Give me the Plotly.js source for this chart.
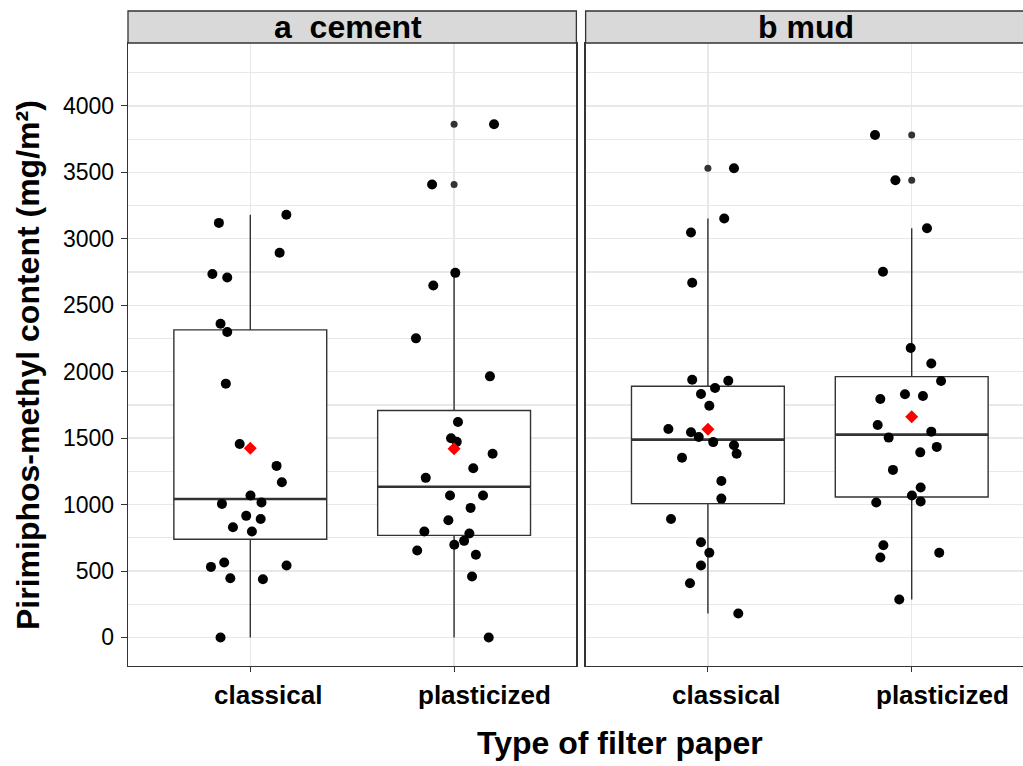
<!DOCTYPE html>
<html>
<head>
<meta charset="utf-8">
<script src="https://cdn.plot.ly/plotly-3.0.1.min.js"></script>
<style>
html,body{margin:0;padding:0;overflow:hidden;background:#fff;}
#chart{width:1034px;height:766px;}
</style>
</head>
<body>
<div id="chart"></div>
<script>
// ---- data ----
const panels = ["a  cement", "b mud"];
const categories = ["classical", "plasticized"];
const yTicks = [0, 500, 1000, 1500, 2000, 2500, 3000, 3500, 4000];

const cementClassical = [3120, 3181, 2895, 2735, 2709, 2361, 2299, 1910, 1456, 1291, 1168, 1068,
  1005, 1015, 915, 892, 829, 797, 564, 531, 541, 446, 438, 0];
const cementClassicalJitter = [-0.154, 0.177, 0.144, -0.186, -0.113, -0.146, -0.113, -0.120, -0.052, 0.129, 0.155, 0.001,
  -0.139, 0.055, -0.020, 0.051, -0.085, 0.008, -0.128, -0.193, 0.178, -0.098, 0.062, -0.146];

const cementPlasticized = [3862, 3409, 2744, 2649, 2251, 1965, 1622, 1499, 1472, 1383, 1273, 1201,
  1068, 1068, 975, 882, 797, 782, 727, 697, 654, 622, 459, 0];
const cementPlasticizedJitter = [0.196, -0.108, 0.006, -0.102, -0.187, 0.176, 0.019, -0.015, 0.013, 0.189, 0.094, -0.139,
  -0.020, 0.142, 0.081, -0.028, -0.146, 0.075, 0.049, 0.001, -0.181, 0.107, 0.088, 0.170];

const mudClassical = [3531, 3153, 3048, 2669, 1940, 1932, 1877, 1832, 1744, 1569, 1544, 1508,
  1470, 1446, 1383, 1353, 1178, 1045, 892, 717, 637, 541, 408, 180];
const mudClassicalJitter = [0.128, 0.080, -0.083, -0.077, -0.077, 0.100, 0.035, -0.034, 0.007, -0.194, -0.083, -0.045,
  0.026, 0.128, 0.141, -0.127, 0.066, 0.066, -0.181, -0.034, 0.007, -0.034, -0.088, 0.149];

const mudPlasticized = [3782, 3441, 3080, 2752, 2178, 2062, 1930, 1830, 1817, 1795, 1599, 1549,
  1504, 1434, 1393, 1261, 1128, 1068, 1023, 1015, 694, 637, 602, 286];
const mudPlasticizedJitter = [-0.180, -0.080, 0.075, -0.141, -0.005, 0.096, 0.144, -0.033, 0.055, -0.154, -0.167, 0.096,
  -0.113, 0.123, 0.042, -0.092, 0.044, 0.001, 0.044, -0.174, -0.139, 0.135, -0.154, -0.061];

const groups = [
  {panel: 0, cat: 0, values: cementClassical, jitter: cementClassicalJitter},
  {panel: 0, cat: 1, values: cementPlasticized, jitter: cementPlasticizedJitter},
  {panel: 1, cat: 0, values: mudClassical, jitter: mudClassicalJitter},
  {panel: 1, cat: 1, values: mudPlasticized, jitter: mudPlasticizedJitter}
];

// ---- statistics (ggplot / R type 7 quantiles) ----
function quant(sorted, p) {
  const h = (sorted.length - 1) * p, lo = Math.floor(h);
  const hi = Math.min(lo + 1, sorted.length - 1);
  return sorted[lo] + (h - lo) * (sorted[hi] - sorted[lo]);
}
function stats(v) {
  const s = v.slice().sort((a, b) => a - b);
  const q1 = quant(s, 0.25), med = quant(s, 0.5), q3 = quant(s, 0.75);
  const iqr = q3 - q1, lo = q1 - 1.5 * iqr, hi = q3 + 1.5 * iqr;
  const inside = s.filter(d => d >= lo && d <= hi);
  return {
    q1, med, q3,
    lf: inside[0], uf: inside[inside.length - 1],
    out: s.filter(d => d < lo || d > hi),
    mean: v.reduce((a, b) => a + b, 0) / v.length
  };
}

const LINE = '#333333';
const BOXW = 0.75;
const boxes = [], lines = [];
groups.forEach(g => {
  const st = stats(g.values);
  const pos = g.cat + 1;
  const xa = g.panel ? 'x2' : 'x', ya = g.panel ? 'y2' : 'y';
  boxes.push({
    type: 'box', orientation: 'v', x: [pos], q1: [st.q1], median: [st.med], q3: [st.q3],
    lowerfence: [st.lf], upperfence: [st.uf], width: BOXW, whiskerwidth: 0,
    boxpoints: false, fillcolor: 'white', line: {color: LINE, width: 1.4},
    xaxis: xa, yaxis: ya, showlegend: false, hoverinfo: 'skip'
  });
  lines.push({
    type: 'scatter', mode: 'lines', x: [pos - BOXW / 2, pos + BOXW / 2], y: [st.med, st.med],
    line: {color: LINE, width: 2.6}, xaxis: xa, yaxis: ya, showlegend: false, hoverinfo: 'skip'
  });
  lines.push({
    type: 'scatter', mode: 'markers', x: st.out.map(() => pos), y: st.out,
    marker: {color: LINE, size: 7}, xaxis: xa, yaxis: ya, showlegend: false, hoverinfo: 'skip'
  });
  lines.push({
    type: 'scatter', mode: 'markers', x: g.values.map((d, i) => pos + g.jitter[i]), y: g.values,
    marker: {color: 'black', size: 10}, xaxis: xa, yaxis: ya, showlegend: false, hoverinfo: 'skip'
  });
  lines.push({
    type: 'scatter', mode: 'markers', x: [pos], y: [st.mean],
    marker: {color: '#FF0000', size: 10, symbol: 'diamond'}, xaxis: xa, yaxis: ya, showlegend: false, hoverinfo: 'skip'
  });
});

const FONT = 'Liberation Sans, Arial, Helvetica, sans-serif';
const domA = [0, 0.4949], domB = [0.5051, 1];
const stripTop = 1.0514;
const GRID = '#E8E8E8';

const xBase = {
  range: [0.4, 2.6], tickvals: [1, 2], showticklabels: false,
  ticks: 'outside', ticklen: 5, tickcolor: LINE, tickwidth: 1,
  showgrid: true, gridcolor: GRID, gridwidth: 1.3,
  showline: true, mirror: true, linecolor: LINE, linewidth: 1.3, zeroline: false, fixedrange: true
};
const yBase = {
  range: [-215, 4474], tickvals: yTicks, ticktext: yTicks.map(String),
  showgrid: true, gridcolor: GRID, gridwidth: 1.3,
  minor: {dtick: 250, tick0: 0, showgrid: true, gridcolor: GRID, gridwidth: 1.3, ticks: ''},
  showline: true, mirror: true, linecolor: LINE, linewidth: 1.3, zeroline: false, fixedrange: true
};

const annotations = [];
panels.forEach((p, k) => {
  const d = k ? domB : domA;
  annotations.push({
    xref: 'paper', yref: 'paper', x: (d[0] + d[1]) / 2, y: 1.0255, xshift: -4,
    xanchor: 'center', yanchor: 'middle', showarrow: false, text: p,
    font: {family: FONT, size: 32, weight: 'bold', color: 'black'}
  });
  categories.forEach((c, i) => {
    annotations.push({
      xref: k ? 'x2' : 'x', yref: 'paper', x: i + 1, y: 0, xshift: -38, yshift: -29,
      xanchor: 'left', yanchor: 'middle', showarrow: false, text: c,
      font: {family: FONT, size: 26, weight: 'bold', color: 'black'}
    });
  });
});
annotations.push({
  xref: 'paper', yref: 'paper', x: (620 - 128) / 906, y: 0, yshift: -77,
  xanchor: 'center', yanchor: 'middle', showarrow: false, text: 'Type of filter paper',
  font: {family: FONT, size: 32, weight: 'bold', color: 'black'}
});
annotations.push({
  xref: 'paper', yref: 'paper', x: (28 - 128) / 906, y: (666 - 365) / 623, textangle: -90,
  xanchor: 'center', yanchor: 'middle', showarrow: false, text: 'Pirimiphos-methyl content (mg/m²)',
  font: {family: FONT, size: 32, weight: 'bold', color: 'black'}
});

const shapes = [domA, domB].map(d => ({
  type: 'rect', xref: 'paper', yref: 'paper', x0: d[0], x1: d[1], y0: 1, y1: stripTop,
  fillcolor: '#D9D9D9', line: {color: LINE, width: 1.3}
}));

const layout = {
  width: 1034, height: 766,
  margin: {l: 128, r: 0, t: 43, b: 100, pad: 0},
  paper_bgcolor: 'white', plot_bgcolor: 'white', showlegend: false, boxmode: 'overlay',
  font: {family: FONT, color: 'black'},
  xaxis: Object.assign({}, xBase, {domain: domA, anchor: 'y'}),
  xaxis2: Object.assign({}, xBase, {domain: domB, anchor: 'y2'}),
  yaxis: Object.assign({}, yBase, {
    anchor: 'x', ticks: 'outside', ticklen: 6, tickcolor: LINE, tickwidth: 1,
    tickfont: {family: FONT, size: 23, color: 'black'}, ticklabelstandoff: 2
  }),
  yaxis2: Object.assign({}, yBase, {anchor: 'x2', matches: 'y', showticklabels: false, ticks: ''}),
  annotations, shapes
};

Plotly.newPlot('chart', boxes.concat(lines), layout, {displayModeBar: false, staticPlot: true});
</script>
</body>
</html>
